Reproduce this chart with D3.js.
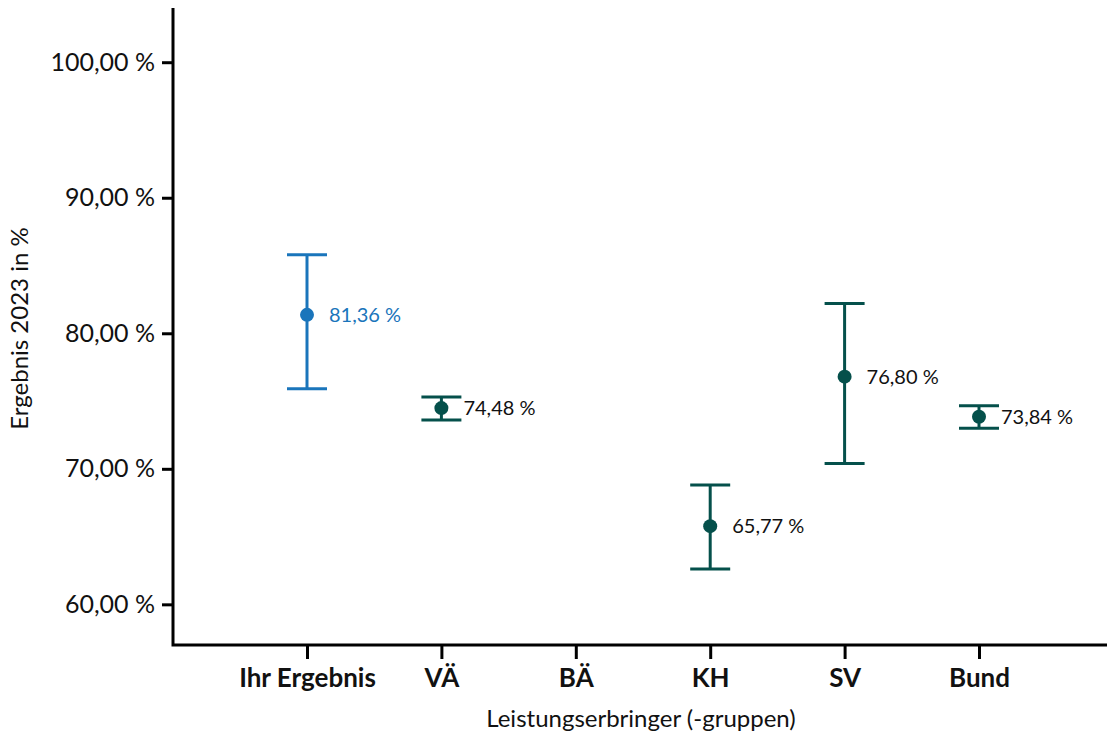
<!DOCTYPE html>
<html>
<head>
    <meta charset="utf-8">
    <script type="text/javascript" src="https://d3js.org/d3.v7.min.js"></script>
    <style>
body { margin: 0; background: #fff; }
svg text { font-family: Lato, "Open Sans", sans-serif; }
    </style>
</head>
<body>
    <svg width="1107" height="737"></svg>

    <script type="text/javascript">

	// data
	var categories = ["Ihr Ergebnis", "VÄ", "BÄ", "KH", "SV", "Bund"];
	var values = [81.36, 74.48, null, 65.77, 76.80, 73.84];
	var upper  = [85.80, 75.30, null, 68.80, 82.20, 74.65];
	var lower  = [75.90, 73.60, null, 62.60, 70.40, 73.00];
	var yTicks = [60, 70, 80, 90, 100];

	var blue = "#1a75bb",
		green = "#05504b";

	var svg = d3.select("svg"),
		plotL = 173, plotT = 8, plotB = 645, plotR = 1107;

	var y = d3.scaleLinear()
		.domain([57, 104])
		.range([plotB, plotT]);

	// points sit one step apart, first one a step right of the y axis
	var x = d3.scalePoint()
		.domain(categories)
		.range([307, 979]);

	function fmt(v) { return d3.format(".2f")(v).replace(".", ",") + " %"; }

	// y axis
	var yAxis = svg.append("g")
		.attr("transform", "translate(" + plotL + ",0)")
		.call(d3.axisLeft(y).tickValues(yTicks).tickSize(11).tickPadding(7).tickFormat(fmt));
	yAxis.select(".domain").remove();
	yAxis.selectAll(".tick line").attr("stroke", "#000").attr("stroke-width", 3);
	yAxis.selectAll(".tick text").attr("font-size", 25).attr("fill", "#111");

	// x axis
	var xAxis = svg.append("g")
		.attr("transform", "translate(0," + plotB + ")")
		.call(d3.axisBottom(x).tickSize(14).tickPadding(10));
	xAxis.select(".domain").remove();
	xAxis.selectAll(".tick line").attr("stroke", "#000").attr("stroke-width", 3);
	xAxis.selectAll(".tick text").attr("font-size", 26).attr("font-weight", "bold").attr("fill", "#111");

	// axis frame lines
	svg.append("path")
		.attr("d", "M" + plotL + "," + plotT + "V" + plotB + "H" + plotR)
		.attr("fill", "none")
		.attr("stroke", "#000")
		.attr("stroke-width", 3);

	// axis titles
	svg.append("text")
		.attr("transform", "translate(28," + ((plotT + plotB) / 2 + 2) + ") rotate(-90)")
		.attr("text-anchor", "middle")
		.attr("font-size", 24)
		.attr("fill", "#111")
		.text("Ergebnis 2023 in %");

	svg.append("text")
		.attr("x", 641)
		.attr("y", 727)
		.attr("text-anchor", "middle")
		.attr("font-size", 24)
		.attr("fill", "#111")
		.text("Leistungserbringer (-gruppen)");

	var rows = categories.map(function(c, i) {
		return {cat: c, v: values[i], hi: upper[i], lo: lower[i], col: i == 0 ? blue : green};
	}).filter(function(d) { return d.v != null; });

	var g = svg.append("g");
	var bar = g.selectAll(".bar")
		.data(rows)
		.enter().append("g")
		.attr("class", "bar");

	bar.append("line")
		.attr("x1", function(d) { return x(d.cat); })
		.attr("x2", function(d) { return x(d.cat); })
		.attr("y1", function(d) { return y(d.hi); })
		.attr("y2", function(d) { return y(d.lo); })
		.attr("stroke", function(d) { return d.col; })
		.attr("stroke-width", 3);

	["hi", "lo"].forEach(function(k) {
		bar.append("line")
			.attr("x1", function(d) { return x(d.cat) - 20; })
			.attr("x2", function(d) { return x(d.cat) + 20; })
			.attr("y1", function(d) { return y(d[k]); })
			.attr("y2", function(d) { return y(d[k]); })
			.attr("stroke", function(d) { return d.col; })
			.attr("stroke-width", 3);
	});

	bar.append("circle")
		.attr("cx", function(d) { return x(d.cat); })
		.attr("cy", function(d) { return y(d.v); })
		.attr("r", 7)
		.attr("fill", function(d) { return d.col; });

	bar.append("text")
		.attr("x", function(d) { return x(d.cat) + 22; })
		.attr("y", function(d) { return y(d.v); })
		.attr("dy", "0.35em")
		.attr("font-size", 20)
		.attr("fill", function(d) { return d.col == blue ? blue : "#111"; })
		.text(function(d) { return fmt(d.v); });

	</script>
</body>
</html>
